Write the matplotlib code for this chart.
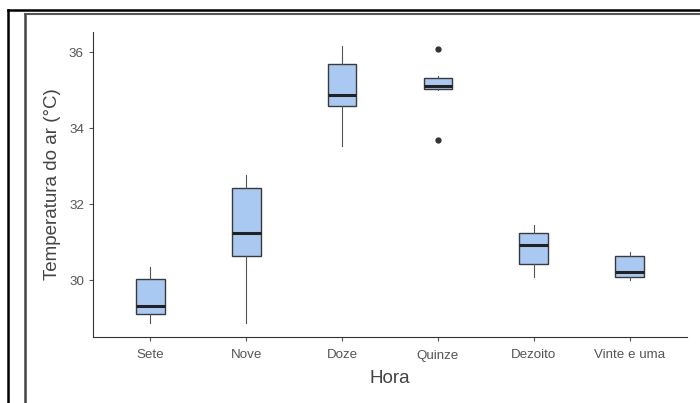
import matplotlib.pyplot as plt
from matplotlib.lines import Line2D

HOURS = ['Sete', 'Nove', 'Doze', 'Quinze', 'Dezoito', 'Vinte e uma']
WHISKER_LOW = [28.87, 28.87, 33.53, 35.00, 30.08, 30.00]
Q1 = [29.10, 30.63, 34.58, 35.03, 30.42, 30.08]
MEDIAN = [29.32, 31.24, 34.87, 35.10, 30.92, 30.21]
Q3 = [30.03, 32.42, 35.68, 35.32, 31.24, 30.63]
WHISKER_HIGH = [30.34, 32.76, 36.16, 35.37, 31.45, 30.74]
OUTLIERS = [[], [], [], [36.08, 33.68], [], []]

PLOT_NAME = 'out.png'
W, H = 700, 403


def main() -> None:
    plt.rcParams['font.family'] = ['Liberation Sans', 'DejaVu Sans']
    fig = plt.figure(figsize=(W / 100, H / 100), dpi=100)
    ax = fig.add_axes([93 / W, (H - 337) / H, (687 - 93) / W, (337 - 32) / H])

    stats = []
    for i, name in enumerate(HOURS):
        stats.append({
            'label': name, 'whislo': WHISKER_LOW[i], 'q1': Q1[i], 'med': MEDIAN[i],
            'q3': Q3[i], 'whishi': WHISKER_HIGH[i], 'fliers': OUTLIERS[i],
        })

    ax.bxp(stats, positions=range(len(HOURS)), widths=0.3, patch_artist=True,
           showcaps=False,
           boxprops=dict(facecolor='#a9c8f2', edgecolor='#3a3a3a', linewidth=1.0),
           medianprops=dict(color='#222222', linewidth=2.2),
           whiskerprops=dict(color='#555555', linewidth=0.8),
           flierprops=dict(marker='o', markersize=3.5, markerfacecolor='#333333',
                           markeredgecolor='#333333'))

    ax.set_xlim(-0.6, 5.6)
    ax.set_ylim(28.5, 36.53)
    ax.set_yticks([30, 32, 34, 36])
    ax.set_xticks(range(len(HOURS)))
    ax.set_xticklabels(HOURS)
    for s in ['top', 'right']:
        ax.spines[s].set_visible(False)
    for s in ['left', 'bottom']:
        ax.spines[s].set_linewidth(0.8)
        ax.spines[s].set_color('#333333')
    ax.tick_params(colors='#555555', labelsize=9.6, length=3, width=0.8)
    ax.tick_params(axis='x', pad=6)
    ax.set_xlabel('Hora', fontsize=13.5, color='#444444', labelpad=6)
    ax.set_ylabel('Temperatura do ar (°C)', fontsize=13.5, color='#444444', labelpad=6)

    # screenshot frame
    def fx(px):
        return px / W

    def fy(py):
        return 1 - py / H

    fig.add_artist(Line2D([fx(8), fx(8)], [fy(10), fy(403)], color='black', lw=1.8))
    fig.add_artist(Line2D([fx(8), fx(700)], [fy(10), fy(10)], color='black', lw=1.8))
    fig.add_artist(Line2D([fx(25), fx(25)], [fy(14), fy(403)], color='#444444', lw=1.8))
    fig.add_artist(Line2D([fx(25), fx(700)], [fy(14), fy(14)], color='#555555', lw=1.5))

    fig.savefig(PLOT_NAME, dpi=100)


if __name__ == '__main__':
    main()
